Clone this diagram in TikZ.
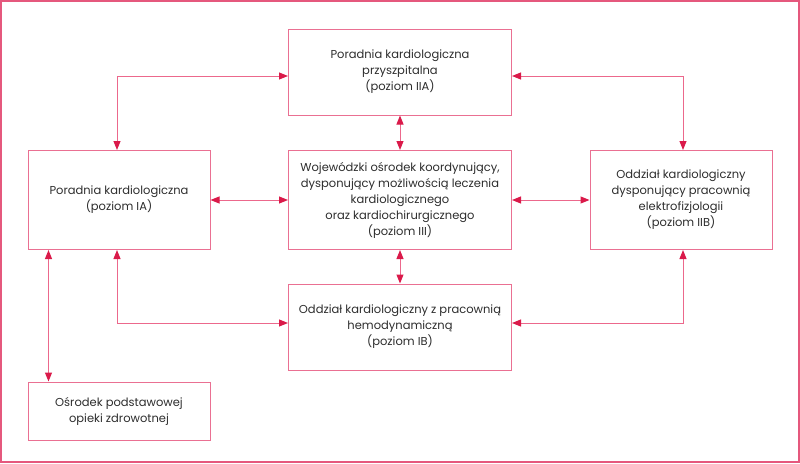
\documentclass[tikz,border=0pt]{standalone}
\usepackage{fontspec}
\setmainfont{Poppins}
\usetikzlibrary{arrows.meta}
\definecolor{framepink}{RGB}{229,88,125}
\definecolor{boxpink}{RGB}{234,112,146}
\definecolor{linkpink}{RGB}{236,104,140}
\definecolor{tipred}{RGB}{218,26,74}
\definecolor{txtgray}{RGB}{45,45,45}

\begin{document}
\begin{tikzpicture}[x=1pt, y=-1pt,
    unit/.style={draw=boxpink, line width=1pt, align=center, inner sep=2pt,
      text=txtgray, font=\fontsize{11.5}{16}\selectfont},
    link/.style={draw=linkpink, line width=1pt,
      {Triangle[length=9pt, width=7pt, color=tipred]}-{Triangle[length=9pt, width=7pt, color=tipred]}}]
          \useasboundingbox (0, 0) rectangle (800, 463);
          \draw[framepink, line width=1.5pt] (1, 1) rectangle (799, 462);

          \node[unit, minimum width=223pt, minimum height=86pt] (IIA) at (400, 72) {Poradnia kardiologiczna\\przyszpitalna\\(poziom IIA)};
          \node[unit, minimum width=182pt, minimum height=99pt] (IA) at (119, 200) {Poradnia kardiologiczna\\(poziom IA)};
          \node[unit, minimum width=223pt, minimum height=99pt] (III) at (400, 200) {Wojewódzki ośrodek koordynujący,\\dysponujący możliwością leczenia\\kardiologicznego\\oraz kardiochirurgicznego\\(poziom III)};
          \node[unit, minimum width=182pt, minimum height=99pt] (IIB) at (681, 200) {Oddział kardiologiczny\\dysponujący pracownią\\elektrofizjologii\\(poziom IIB)};
          \node[unit, minimum width=223pt, minimum height=86pt] (IB) at (400, 327) {Oddział kardiologiczny z pracownią\\hemodynamiczną\\(poziom IB)};
          \node[unit, minimum width=182pt, minimum height=58pt] (POZ) at (119, 411) {Ośrodek podstawowej\\opieki zdrowotnej};

          \draw[link] ([yshift=-4pt]IIA.west) -| ([xshift=-2pt]IA.north);
          \draw[link] ([yshift=-4pt]IIA.east) -| ([xshift=2pt]IIB.north);
          \draw[link] (IIA.south) -- (III.north);
          \draw[link] (IA.east) -- (III.west);
          \draw[link] (III.east) -- (IIB.west);
          \draw[link] (III.south) -- (IB.north);
          \draw[link] ([xshift=-2pt]IA.south) |- ([yshift=4pt]IB.west);
          \draw[link] ([xshift=2pt]IIB.south) |- ([yshift=4pt]IB.east);
          \draw[link] ([xshift=21pt]IA.south west) -- ([xshift=21pt]POZ.north west);
        \end{tikzpicture}
\end{document}
